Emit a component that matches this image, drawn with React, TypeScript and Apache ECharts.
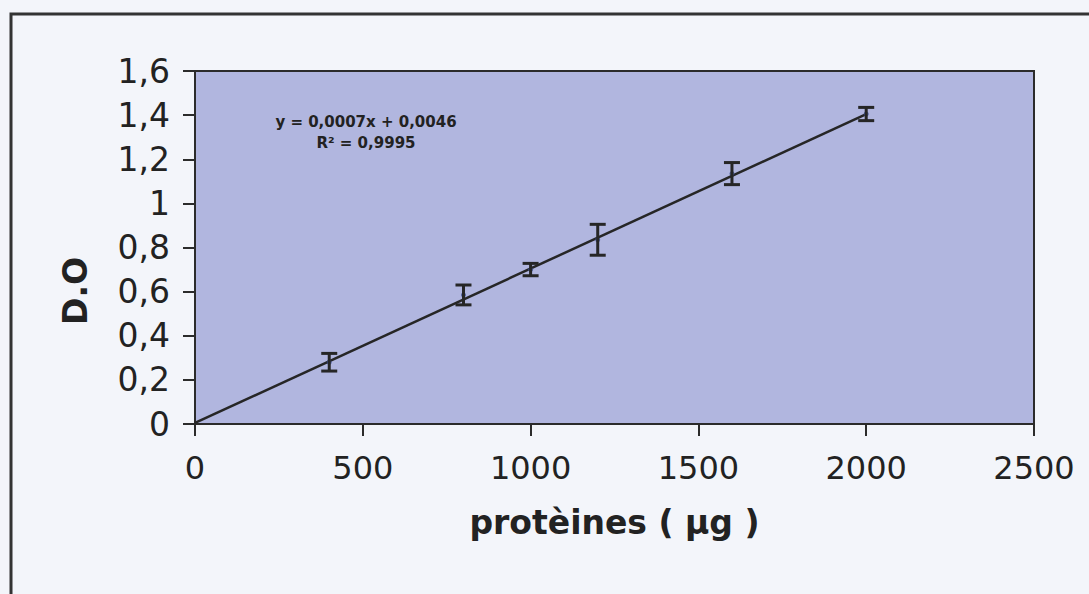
import React, { useEffect, useRef } from "react";
import * as echarts from "echarts";

const proteinX = [400, 800, 1000, 1200, 1600, 2000];
const meanDO = [0.28, 0.585, 0.70, 0.835, 1.135, 1.405];
const errDO = [0.04, 0.045, 0.028, 0.07, 0.05, 0.03];
const trendX = [0, 2000];
const trendY = [0.0046, 1.4046];
const equationLines = ["y = 0,0007x + 0,0046", "R² = 0,9995"];
const xAxisTitle = "protèines ( µg )";
const yAxisTitle = "D.O";

const fmtY = (v: number) => String(+v.toFixed(1)).replace(".", ",");
const fmtX = (v: number) => String(Math.round(v));

export default function App() {
  const ref = useRef<HTMLDivElement>(null);
  useEffect(() => {
    if (!ref.current) return;
    const chart = echarts.init(ref.current, undefined, { renderer: "svg" });
    const errData = proteinX.map((x, i) => [x, meanDO[i] - errDO[i], meanDO[i] + errDO[i]]);
    const textColor = "#222222";
    chart.setOption({
      animation: false,
      backgroundColor: "#f3f5fa",
      grid: {
        left: 195,
        top: 71,
        right: 55,
        bottom: 170,
        show: true,
        backgroundColor: "#b1b6df",
        borderColor: "#2b2b2b",
        borderWidth: 2,
      },
      xAxis: {
        type: "value",
        min: 0,
        max: 2500,
        interval: 500,
        axisLine: { show: true, onZero: false, lineStyle: { color: "#2b2b2b", width: 2 } },
        axisTick: { show: true, inside: false, length: 12, lineStyle: { color: "#2b2b2b", width: 2 } },
        splitLine: { show: false },
        axisLabel: { color: textColor, fontFamily: "DejaVu Sans", fontSize: 32, margin: 28, formatter: fmtX },
        name: xAxisTitle,
        nameLocation: "middle",
        nameGap: 82,
        nameTextStyle: { color: textColor, fontFamily: "DejaVu Sans", fontWeight: "bold", fontSize: 33 },
      },
      yAxis: {
        type: "value",
        min: 0,
        max: 1.6,
        interval: 0.2,
        axisLine: { show: true, lineStyle: { color: "#2b2b2b", width: 2 } },
        axisTick: { show: true, inside: false, length: 12, lineStyle: { color: "#2b2b2b", width: 2 } },
        splitLine: { show: false },
        axisLabel: { color: textColor, fontFamily: "DejaVu Sans", fontSize: 33, margin: 25, formatter: fmtY },
      },
      graphic: [
        {
          type: "rect",
          shape: { x: 11, y: 14, width: 1200, height: 700 },
          style: { fill: "none", stroke: "#333", lineWidth: 3 },
          z: -1,
        },
        {
          type: "text",
          x: 75,
          y: 291,
          rotation: Math.PI / 2,
          style: {
            text: yAxisTitle,
            fill: textColor,
            font: "bold 33px 'DejaVu Sans'",
            align: "center",
            verticalAlign: "middle",
          },
        },
        {
          type: "text",
          x: 366,
          y: 122,
          style: {
            text: equationLines[0],
            fill: textColor,
            font: "bold 15px 'DejaVu Sans'",
            align: "center",
            verticalAlign: "middle",
          },
          z: 10,
        },
        {
          type: "text",
          x: 366,
          y: 143,
          style: {
            text: equationLines[1],
            fill: textColor,
            font: "bold 15px 'DejaVu Sans'",
            align: "center",
            verticalAlign: "middle",
          },
          z: 10,
        },
      ],
      series: [
        {
          type: "line",
          data: trendX.map((x, i) => [x, trendY[i]]),
          symbol: "none",
          lineStyle: { color: "#262626", width: 2.5 },
          z: 2,
        },
        {
          type: "scatter",
          data: proteinX.map((x, i) => [x, meanDO[i]]),
          symbol: "circle",
          symbolSize: 5,
          itemStyle: { color: "#3c4f8f" },
          z: 3,
        },
        {
          type: "custom",
          data: errData,
          z: 4,
          renderItem: (params: any, api: any) => {
            const x = api.value(0);
            const lo = api.coord([x, api.value(1)]);
            const hi = api.coord([x, api.value(2)]);
            const hw = 8;
            const st = { stroke: "#262626", lineWidth: 3 };
            return {
              type: "group",
              children: [
                { type: "line", shape: { x1: lo[0], y1: lo[1], x2: hi[0], y2: hi[1] }, style: st },
                { type: "line", shape: { x1: lo[0] - hw, y1: lo[1], x2: lo[0] + hw, y2: lo[1] }, style: st },
                { type: "line", shape: { x1: hi[0] - hw, y1: hi[1], x2: hi[0] + hw, y2: hi[1] }, style: st },
              ],
            };
          },
        },
      ],
    });
    return () => chart.dispose();
  }, []);
  return (
    <div
      ref={ref}
      style={{ position: "fixed", left: 0, top: 0, width: 1089, height: 594 }}
    />
  );
}
